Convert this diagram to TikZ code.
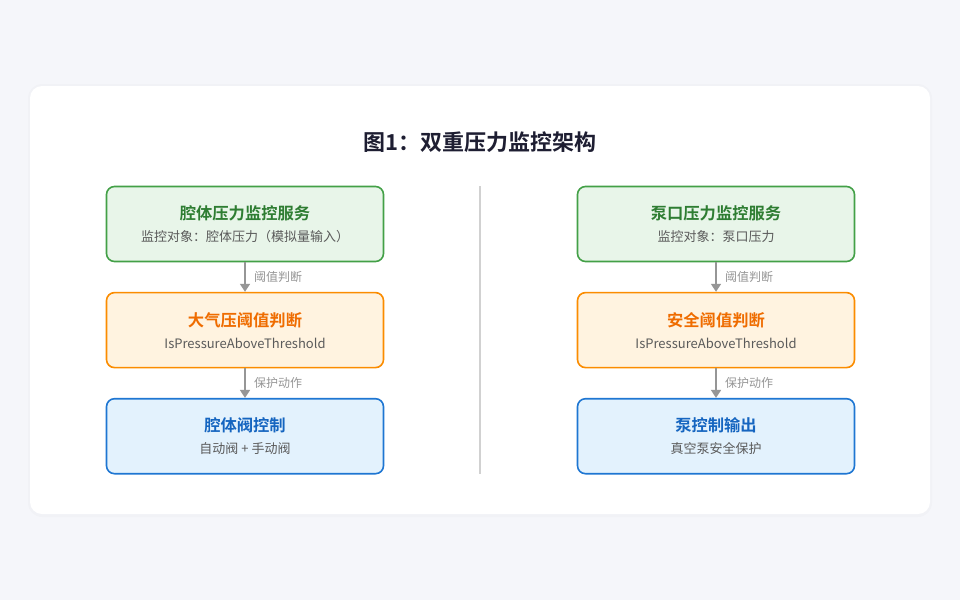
\documentclass[tikz,border=0pt]{standalone}
\usepackage{fontspec}
\setmainfont{Noto Sans CJK SC}[BoldFont={Noto Sans CJK SC Bold}]
\usepackage{xcolor}
\definecolor{dual_bg}{RGB}{245, 246, 250}
\definecolor{dual_title}{RGB}{30, 30, 50}
\definecolor{dual_text}{RGB}{90, 90, 90}
\definecolor{dual_line}{RGB}{150, 150, 150}
\definecolor{green_edge}{RGB}{67, 160, 71}
\definecolor{green_fill}{RGB}{232, 245, 233}
\definecolor{green_text}{RGB}{46, 125, 50}
\definecolor{orange_edge}{RGB}{251, 140, 0}
\definecolor{orange_fill}{RGB}{255, 243, 224}
\definecolor{orange_text}{RGB}{239, 108, 0}
\definecolor{blue_edge}{RGB}{30, 118, 210}
\definecolor{blue_fill}{RGB}{227, 242, 253}
\definecolor{blue_text}{RGB}{21, 101, 192}
\usepackage{tikz}
\usetikzlibrary{arrows.meta, positioning}

\begin{document}
\begin{tikzpicture}[x=1pt, y=-1pt,
    box/.style={draw, line width=1.6pt, rounded corners=8pt, minimum width=277pt,
      minimum height=75pt, align=center, text=dual_text, font=\fontsize{13}{15}\selectfont},
    greenbox/.style={box, draw=green_edge, fill=green_fill},
    orangebox/.style={box, draw=orange_edge, fill=orange_fill},
    bluebox/.style={box, draw=blue_edge, fill=blue_fill},
    flow/.style={draw=dual_line, line width=1.5pt, -{Triangle[length=8pt, width=10pt]}},
    flowlabel/.style={midway, right=5pt, text=dual_line, font=\fontsize{12}{14}\selectfont}]
    \fill[dual_bg] (0,0) rectangle (960,600);
    \fill[black, opacity=0.015, rounded corners=14pt] (28,84) rectangle (932,517);
    \fill[white, rounded corners=12pt] (30,86) rectangle (930,514);

    \node[font=\fontsize{22}{26}\selectfont\bfseries, text=dual_title] (title) at (480,142) {图1：双重压力监控架构};

    % Column 1 : chamber pressure
    \node[greenbox] (cavMon) at (245,224)
      {{\fontsize{16.3}{19}\selectfont\bfseries\color{green_text}腔体压力监控服务}\\[7pt] 监控对象：腔体压力（模拟量输入）};
    \node[orangebox, below=29.5pt of cavMon] (cavJudge)
      {{\fontsize{16.3}{19}\selectfont\bfseries\color{orange_text}大气压阈值判断}\\[7pt] IsPressureAboveThreshold};
    \node[bluebox, below=29.5pt of cavJudge] (cavOut)
      {{\fontsize{16.3}{19}\selectfont\bfseries\color{blue_text}腔体阀控制}\\[7pt] 自动阀 + 手动阀};
    \draw[flow] (cavMon) -- (cavJudge) node[flowlabel] (cavLabA) {阈值判断};
    \draw[flow] (cavJudge) -- (cavOut) node[flowlabel] (cavLabB) {保护动作};

    % Divider
    \coordinate (divTop) at (480,186);
    \coordinate (divBot) at (480,474);
    \draw[black!18, line width=1.2pt] (divTop) -- (divBot);

    % Column 2 : pump pressure
    \node[greenbox] (pumpMon) at (716,224)
      {{\fontsize{16.3}{19}\selectfont\bfseries\color{green_text}泵口压力监控服务}\\[7pt] 监控对象：泵口压力};
    \node[orangebox, below=29.5pt of pumpMon] (pumpJudge)
      {{\fontsize{16.3}{19}\selectfont\bfseries\color{orange_text}安全阈值判断}\\[7pt] IsPressureAboveThreshold};
    \node[bluebox, below=29.5pt of pumpJudge] (pumpOut)
      {{\fontsize{16.3}{19}\selectfont\bfseries\color{blue_text}泵控制输出}\\[7pt] 真空泵安全保护};
    \draw[flow] (pumpMon) -- (pumpJudge) node[flowlabel] (pumpLabA) {阈值判断};
    \draw[flow] (pumpJudge) -- (pumpOut) node[flowlabel] (pumpLabB) {保护动作};
\end{tikzpicture}
\end{document}
